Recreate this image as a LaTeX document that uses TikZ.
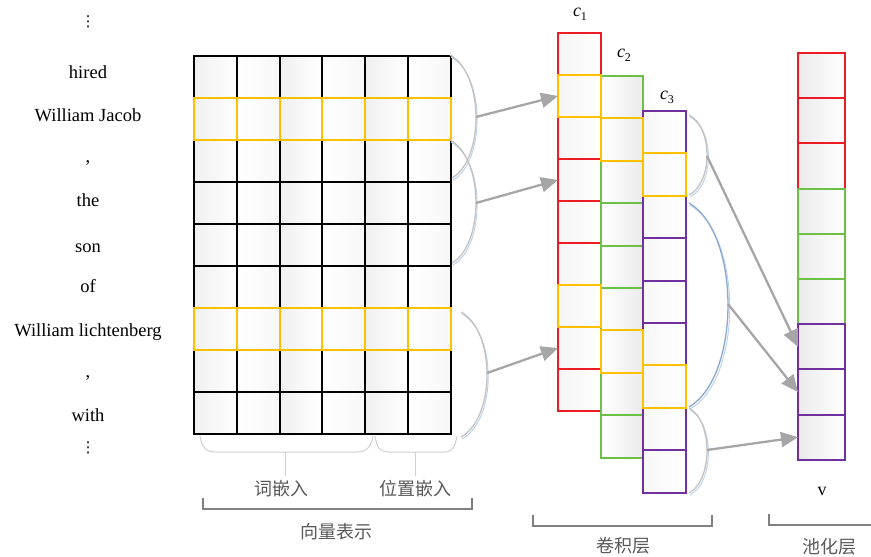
\documentclass[tikz,border=0pt]{standalone}
\usepackage{fontspec}
\setmainfont{Liberation Serif}
\newfontfamily\cjkfont{Noto Sans CJK SC}
\newfontfamily\symfont{DejaVu Sans}
\usetikzlibrary{arrows.meta}
\definecolor{cred}{HTML}{ED1C24}
\definecolor{cgreen}{HTML}{6CBF47}
\definecolor{cpurple}{HTML}{7030A0}
\definecolor{cyellow}{HTML}{FFC000}
\definecolor{agray}{HTML}{A6A6A6}
\definecolor{arcgray}{HTML}{C2C2C2}
\definecolor{arcblue}{HTML}{B9CFE8}
\definecolor{arcsteel}{HTML}{8BA8CC}
\definecolor{brgray}{HTML}{808080}
\definecolor{labgray}{HTML}{595959}
\definecolor{bracegray}{HTML}{D0D0D0}
\begin{document}
\begin{tikzpicture}[x=1pt,y=-1pt,
  mA/.style={minimum width=42.83pt, minimum height=42pt, inner sep=0pt, outer sep=0pt, left color=black!6, right color=white},
  mB/.style={minimum width=42.83pt, minimum height=42pt, inner sep=0pt, outer sep=0pt, left color=white, right color=black!3},
  cone/.style={minimum width=43pt, minimum height=42pt, inner sep=0pt, outer sep=0pt, left color=black!4, right color=white},
  ctwo/.style={minimum width=42pt, minimum height=42.4pt, inner sep=0pt, outer sep=0pt, left color=white, right color=black!8},
  cthree/.style={minimum width=43pt, minimum height=42.4pt, inner sep=0pt, outer sep=0pt, left color=black!3, right color=white},
  pcell/.style={minimum width=47pt, minimum height=45.2pt, inner sep=0pt, outer sep=0pt, left color=black!8, right color=white},
  mline/.style={line width=2pt},
  cline/.style={line width=1.9pt},
  word/.style={font=\fontsize{18.5}{22}\selectfont, anchor=base, inner sep=0pt},
  dots/.style={font=\symfont\fontsize{15}{15}\selectfont, inner sep=0pt},
  cjk/.style={font=\cjkfont\fontsize{18}{22}\selectfont, text=labgray, inner sep=0pt},
  arr/.style={draw=agray, line width=2.3pt, -{Triangle[length=17pt,width=15pt]}},
  arcline/.style={draw=arcgray, line width=1.3pt},
  arcshadow/.style={draw=arcblue, line width=0.9pt},
  brk/.style={draw=brgray, line width=2.5pt},
  brace/.style={draw=bracegray, line width=1pt}
]
\useasboundingbox (0,0) rectangle (871,557);

% ---------- left words ----------
\node[dots] (dtop) at (88,22) {⋮};
\node[word] (w1) at (88,78) {hired};
\node[word] (w2) at (88,121) {William Jacob};
\node[word] (w3) at (88,162) {,};
\node[word] (w4) at (88,206) {the};
\node[word] (w5) at (88,252) {son};
\node[word] (w6) at (88,292) {of};
\node[word] (w7) at (88,336) {William lichtenberg};
\node[word] (w8) at (88,377) {,};
\node[word] (w9) at (88,421) {with};
\node[dots] (dbot) at (88,448) {⋮};

% ---------- embedding matrix: fills ----------
\foreach \i in {1,...,9}{
  \foreach \j in {1,3,5}{
    \node[mA] (m-\i-\j) at ({194+42.83*(\j-0.5)},{56+42*(\i-0.5)}) {};}
  \foreach \j in {2,4,6}{
    \node[mB] (m-\i-\j) at ({194+42.83*(\j-0.5)},{56+42*(\i-0.5)}) {};}
}
% borders
\foreach \i in {1,3,4,5,6,8,9}{
  \foreach \j in {1,...,6}{
    \draw[mline, draw=black] (m-\i-\j.north west) rectangle (m-\i-\j.south east);}}
\foreach \i in {2,7}{
  \foreach \j in {1,...,6}{
    \draw[mline, draw=cyellow] (m-\i-\j.north west) rectangle (m-\i-\j.south east);}}

% ---------- braces under matrix ----------
\draw[brace] (200,436) .. controls (202,448) and (206,452) .. (216,452) -- (356,452) .. controls (366,452) and (371,448) .. (373,436);
\draw[brace] (285,452) -- (285,476);
\draw[brace] (375,436) .. controls (377,448) and (380,452) .. (389,452) -- (444,452) .. controls (452,452) and (455,448) .. (457,436);
\draw[brace] (415,452) -- (415,476);
\node[cjk] (lw) at (281,489) {词嵌入};
\node[cjk] (lp) at (415,489) {位置嵌入};

% ---------- convolution layer: fills ----------
\foreach \i in {1,...,9}{
  \node[cone] (a-\i) at (579.5,{33+42*(\i-0.5)}) {};
  \node[ctwo] (b-\i) at (622,{76+42.4*(\i-0.5)}) {};
  \node[cthree] (c-\i) at (664.5,{111+42.4*(\i-0.5)}) {};}
% borders
\foreach \i in {1,3,4,5,6,8,9}{
  \draw[cline, draw=cred] (a-\i.north west) rectangle (a-\i.south east);}
\foreach \i in {1,3,4,5,6,8,9}{
  \draw[cline, draw=cgreen] (b-\i.north west) rectangle (b-\i.south east);}
\foreach \i in {1,3,4,5,6,8,9}{
  \draw[cline, draw=cpurple] (c-\i.north west) rectangle (c-\i.south east);}
\foreach \i in {2,7}{
  \draw[cline, draw=cyellow] (a-\i.north west) rectangle (a-\i.south east);
  \draw[cline, draw=cyellow] (b-\i.north west) rectangle (b-\i.south east);
  \draw[cline, draw=cyellow] (c-\i.north west) rectangle (c-\i.south east);}

\node[font=\fontsize{18}{20}\selectfont, inner sep=0pt] (lc1) at (580,14) {\textit{c}\raisebox{-4pt}{\fontsize{12}{12}\selectfont 1}};
\node[font=\fontsize{18}{20}\selectfont, inner sep=0pt] (lc2) at (624,55) {\textit{c}\raisebox{-4pt}{\fontsize{12}{12}\selectfont 2}};
\node[font=\fontsize{18}{20}\selectfont, inner sep=0pt] (lc3) at (667,97) {\textit{c}\raisebox{-4pt}{\fontsize{12}{12}\selectfont 3}};

% ---------- pooling layer ----------
\foreach \i in {1,...,9}{
  \node[pcell] (p-\i) at (821.5,{53+45.2*(\i-0.5)}) {};}
\foreach \i/\col in {1/cred,2/cred,3/cred,4/cgreen,5/cgreen,6/cgreen,7/cpurple,8/cpurple,9/cpurple}{
  \draw[cline, draw=\col] (p-\i.north west) rectangle (p-\i.south east);}
\node[font=\fontsize{18}{20}\selectfont, inner sep=0pt] (lv) at (822,491) {v};

% ---------- arcs ----------
\draw[arcshadow] (451,57) .. controls (485.5,75.5) and (485.5,161.5) .. (453,180);
\draw[arcline] (450,55) .. controls (484.3,73.5) and (484.3,159.5) .. (452,178);
\draw[arcshadow] (451,142) .. controls (485.5,160.5) and (485.5,246.5) .. (453,265);
\draw[arcline] (450,140) .. controls (484.3,158.5) and (484.3,244.5) .. (452,263);
\draw[arcshadow] (462,314) .. controls (497,333) and (497,420) .. (462,439);
\draw[arcline] (461,312) .. controls (495.7,331) and (495.7,418) .. (461,437);
\draw[arcshadow] (690,117) .. controls (714.5,129) and (714.5,185) .. (690,197);
\draw[arcline] (689,115) .. controls (713,127) and (713,183) .. (689,195);
\draw[arcshadow] (690,205) .. controls (743,236) and (743,379) .. (690,409);
\draw[draw=arcsteel, line width=1.3pt] (689,203) .. controls (741,233.6) and (741,376.4) .. (689,407);
\draw[arcshadow] (690,410) .. controls (714.5,423) and (714.5,482) .. (690,495);
\draw[arcline] (689,408) .. controls (713,420.75) and (713,480.25) .. (689,493);

\coordinate (ap1) at (476,117);
\coordinate (ap2) at (476,203);
\coordinate (ap3) at (487,373);
\coordinate (ap4) at (707,156);
\coordinate (ap5) at (728,304);
\coordinate (ap6) at (707,450);

% ---------- arrows ----------
\draw[arr] (ap1) -- (a-2.west);
\draw[arr] (ap2) -- (a-4.west);
\draw[arr] (ap3) -- (a-8.west);
\draw[arr] (ap4) -- (p-7.west);
\draw[arr] (ap5) -- (p-8.west);
\draw[arr] (ap6) -- (p-9.west);

% ---------- brackets ----------
\draw[brk] (203,498) -- (203,509) -- (472,509) -- (472,498);
\node[cjk] (l1) at (336,532) {向量表示};
\draw[brk] (533,515) -- (533,526) -- (712,526) -- (712,515);
\node[cjk] (l2) at (623,546) {卷积层};
\draw[brk] (769,514) -- (769,525) -- (875,525);
\node[cjk] (l3) at (829,547) {池化层};
\end{tikzpicture}
\end{document}
